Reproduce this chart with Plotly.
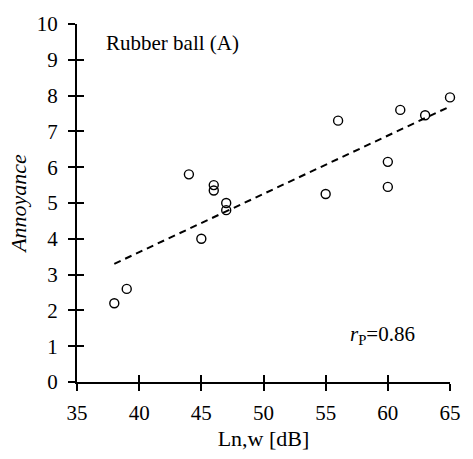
import numpy as np
import plotly.graph_objects as go

# Data
ln_w = [38, 39, 44, 45, 46, 46, 47, 47, 55, 56, 60, 60, 61, 63, 65]
annoyance = [2.2, 2.6, 5.8, 4.0, 5.5, 5.35, 5.0, 4.8, 5.25, 7.3, 6.15, 5.45, 7.6, 7.45, 7.95]
x_ticks = [35, 40, 45, 50, 55, 60, 65]
y_ticks = [0, 1, 2, 3, 4, 5, 6, 7, 8, 9, 10]

# linear regression trend line
slope, intercept = np.polyfit(ln_w, annoyance, 1)
trend_x = [min(ln_w), max(ln_w)]
trend_y = [slope * v + intercept for v in trend_x]

FONT = "Times New Roman, Liberation Serif, serif"

fig = go.Figure()
fig.add_trace(go.Scatter(
    x=trend_x, y=trend_y, mode="lines",
    line=dict(color="black", width=2, dash="7px,5px"),
    showlegend=False, hoverinfo="skip", cliponaxis=False))
fig.add_trace(go.Scatter(
    x=ln_w, y=annoyance, mode="markers",
    marker=dict(symbol="circle-open", size=9, color="black", line=dict(width=1.4)),
    showlegend=False, cliponaxis=False))
# invisible trace on overlay axes (for the inner half of the crossing ticks)
fig.add_trace(go.Scatter(x=[ln_w[0]], y=[annoyance[0]], xaxis="x2", yaxis="y2",
                         mode="markers", marker=dict(opacity=0), showlegend=False,
                         hoverinfo="skip"))

axis_common = dict(showgrid=False, zeroline=False, showline=True, linecolor="black",
                   linewidth=2, ticks="outside", ticklen=7, tickwidth=2, tickcolor="black",
                   tickfont=dict(family=FONT, size=21, color="black"))

fig.update_layout(
    width=473, height=459,
    margin=dict(l=77, r=14, t=24, b=68),
    paper_bgcolor="white", plot_bgcolor="white",
    font=dict(family=FONT, color="black"),
    xaxis=dict(range=[35, 65], tickvals=x_ticks, ticklabelstandoff=4,
               title=dict(text="Ln,w [dB]", font=dict(family=FONT, size=22, color="black"),
                          standoff=6),
               **axis_common),
    yaxis=dict(range=[0, 10], tickvals=y_ticks, ticklabelstandoff=6,
               title=dict(text="<i>Annoyance</i>", font=dict(family=FONT, size=22, color="black"),
                          standoff=4),
               **axis_common),
    xaxis2=dict(range=[35, 65], tickvals=x_ticks, overlaying="x", anchor="y2",
                showticklabels=False, showgrid=False, zeroline=False, showline=False,
                ticks="inside", ticklen=7, tickwidth=2, tickcolor="black"),
    yaxis2=dict(range=[0, 10], tickvals=y_ticks, overlaying="y", anchor="x2",
                showticklabels=False, showgrid=False, zeroline=False, showline=False,
                ticks="inside", ticklen=7, tickwidth=2, tickcolor="black"),
    annotations=[
        dict(x=37.2, y=9.48, xref="x", yref="y", text="Rubber ball (A)", showarrow=False,
             xanchor="left", yanchor="middle", font=dict(family=FONT, size=21, color="black")),
        dict(x=56.8, y=1.3, xref="x", yref="y", text="<i>r</i><sub>P</sub>=0.86",
             showarrow=False, xanchor="left", yanchor="middle",
             font=dict(family=FONT, size=21, color="black")),
    ],
)

fig.write_html("out.html")
